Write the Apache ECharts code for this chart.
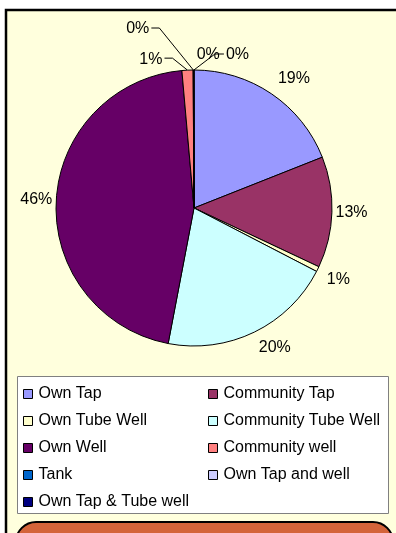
<!DOCTYPE html>
<html><head><meta charset="utf-8">
<script src="https://cdn.jsdelivr.net/npm/echarts@6/dist/echarts.min.js"></script>
<style>html,body{margin:0;padding:0;background:#fff}#c{width:396px;height:533px}</style>
</head><body><div id="c"></div>
<script>
var categories = ['Own Tap','Community Tap','Own Tube Well','Community Tube Well','Own Well','Community well','Tank','Own Tap and well','Own Tap & Tube well'];
var shares = [19.0, 13.0, 0.6, 20.4, 45.6, 1.3, 0.05, 0.03, 0.02];
var colors = ['#9999FF','#993366','#FFFFCC','#CCFFFF','#660066','#FF8080','#0066CC','#CCCCFF','#000080'];
var leftLegend = ['Own Tap','Own Tube Well','Own Well','Tank','Own Tap & Tube well'];
var rightLegend = ['Community Tap','Community Tube Well','Community well','Own Tap and well'];
var calloutItems = ['Community well','Tank','Own Tap and well','Own Tap & Tube well'];
// callout leader style: [elbow dx, elbow dy, horizontal run, show line]
var calloutStyle = [[-15,-12,-8,true],[-34,-42,-8,true],[0,-16,1,false],[21,-16,9,true]];

var font = 'Arial, "Liberation Sans", sans-serif';
var labelFont = 16;
var data = categories.map(function(n,i){
  var ci = calloutItems.indexOf(n);
  return {name:n, value:shares[i], itemStyle:{color:colors[i]},
          labelLine:{show: ci >= 0 && calloutStyle[ci][3]}};
});
var legendCommon = {
  orient:'vertical', itemWidth:9, itemHeight:9, itemGap:11, icon:'rect', padding:0,
  textStyle:{fontFamily:font, fontSize:16, color:'#000', lineHeight:16, padding:[0,0,0,1]},
  itemStyle:{borderColor:'#000', borderWidth:1}, selectedMode:false
};
var chart = echarts.init(document.getElementById('c'), null, {renderer:'canvas'});
function sliceLayout(i){
  return chart.getModel().getSeriesByIndex(0).getData().getItemLayout(i);
}
function clamp1(v){ return Math.max(-1, Math.min(1, v)); }
chart.setOption({
  animation:false,
  color: colors,
  graphic:[
    {type:'rect', z:-10, shape:{x:6, y:10, width:400, height:540}, style:{fill:'#FFFFDD', stroke:'#000', lineWidth:2.5}},
    {type:'rect', z:-9, shape:{x:17.5, y:376.5, width:371, height:137}, style:{fill:'#fff', stroke:'#808080', lineWidth:1}},
    {type:'rect', z:-9, shape:{x:16, y:522, width:377, height:60, r:20}, style:{fill:'#D4643A', stroke:'#000', lineWidth:2}}
  ],
  legend:[
    Object.assign({left:23, top:386, data:leftLegend}, legendCommon),
    Object.assign({left:208, top:386, data:rightLegend}, legendCommon)
  ],
  series:[{
    type:'pie', center:[194,208], radius:138, startAngle:90, clockwise:true,
    minAngle:0, avoidLabelOverlap:false,
    itemStyle:{borderColor:'#000', borderWidth:1},
    label:{show:true, position:'outside', fontFamily:font, fontSize:labelFont, color:'#000',
      formatter:function(p){return Math.round(p.percent)+'%';}},
    labelLine:{length:10, length2:5, lineStyle:{color:'#000', width:1}},
    labelLayout:function(p){
      var lay = sliceLayout(p.dataIndex);
      if(!lay) return {};
      var mid = (lay.startAngle + lay.endAngle)/2;
      var c = Math.cos(mid), s = Math.sin(mid);
      var ci = calloutItems.indexOf(categories[p.dataIndex]);
      if(ci < 0){
        var g = 3 + 9*Math.abs(Math.sin(2*mid));
        var d = lay.r + g;
        var hw = p.labelRect.width/2, hh = labelFont*0.375;
        return {x: lay.cx + d*c + hw*clamp1(3*c), y: lay.cy + d*s + hh*clamp1(3*s),
                align:'center', verticalAlign:'middle'};
      }
      var st = calloutStyle[ci];
      var ex = lay.cx + lay.r*c, ey = lay.cy + lay.r*s;
      var bx = ex + st[0], by = ey + st[1];
      var tx = bx + st[2];
      var right = st[2] > 0;
      return {x: tx + (right?2:-2), y: by + 1, align: right?'left':'right', verticalAlign:'middle',
              labelLinePoints:[[ex,ey],[bx,by],[tx,by]]};
    },
    emphasis:{disabled:true},
    data:data
  }]
});
</script></body></html>
